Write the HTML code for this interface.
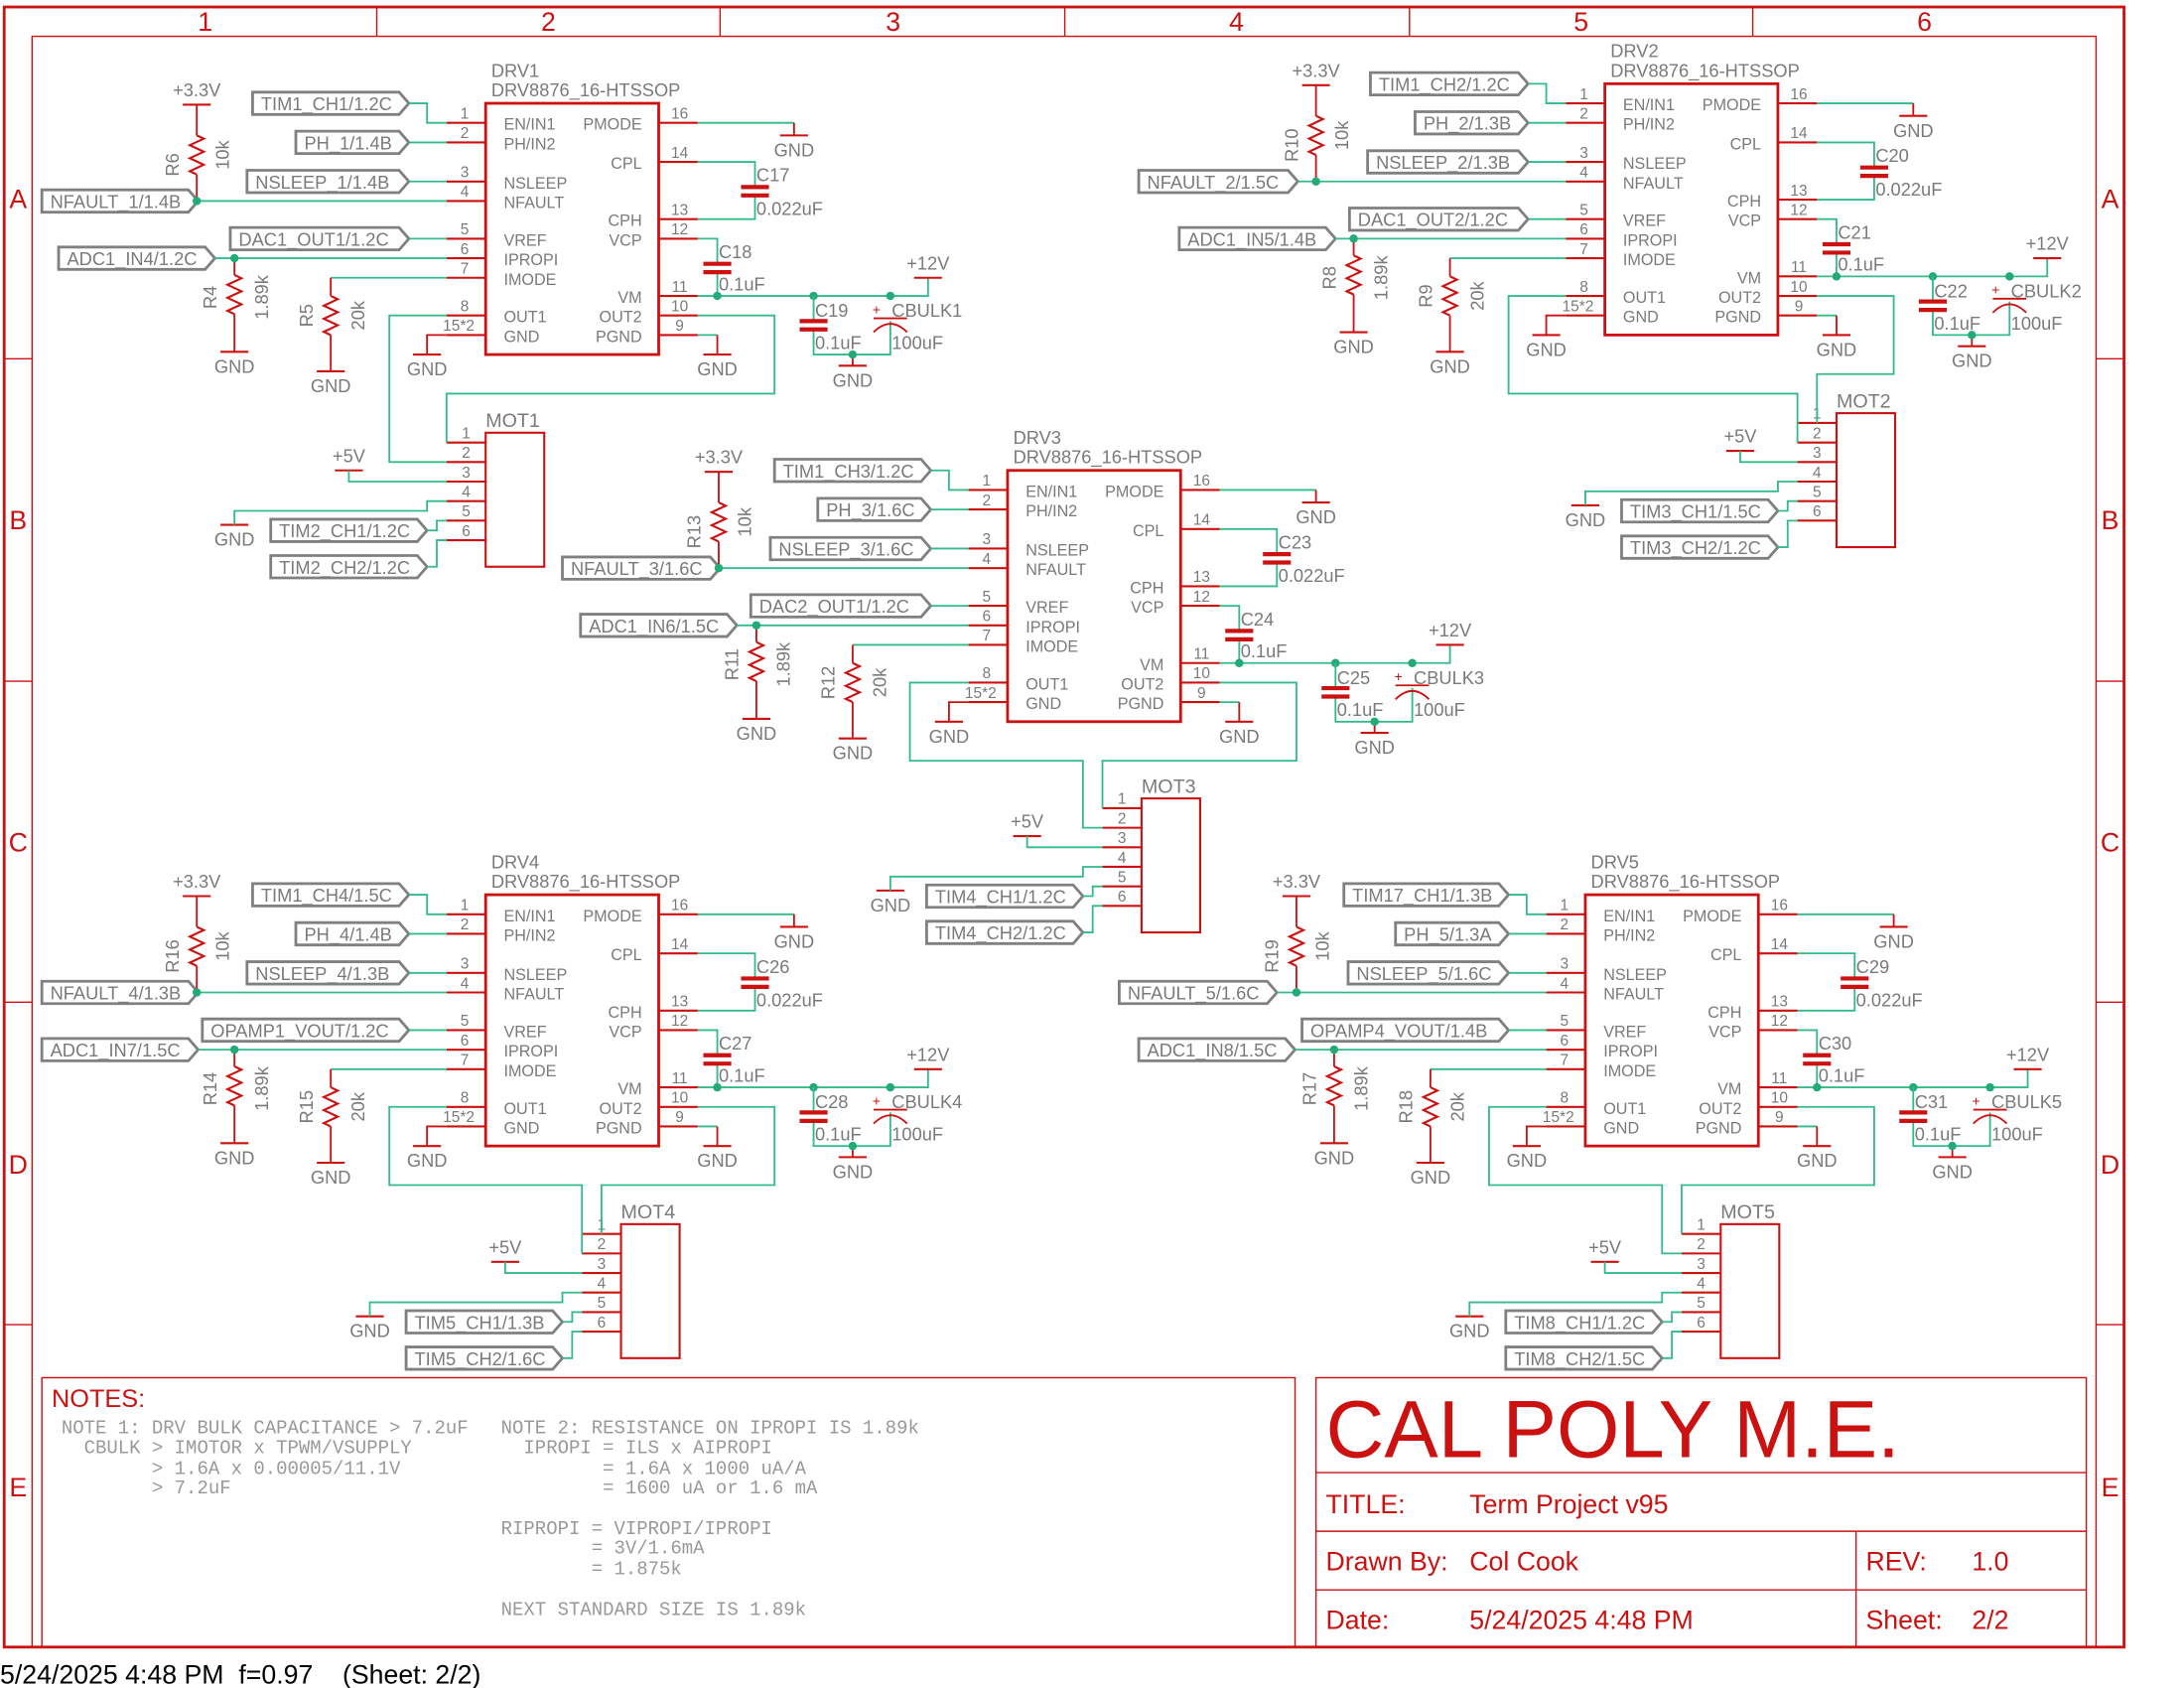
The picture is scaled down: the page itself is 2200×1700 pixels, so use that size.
<!DOCTYPE html>
<html><head><meta charset="utf-8"><style>
html,body{margin:0;padding:0;background:#fff}
svg{display:block}
text{font-family:"Liberation Sans",sans-serif}
.mono text,.mono{font-family:"Liberation Mono",monospace;white-space:pre}
</style></head><body>
<svg id="s" width="2200" height="1700" viewBox="0 0 1565 1209.3" xmlns="http://www.w3.org/2000/svg">
<rect x="0" y="0" width="1565" height="1210" fill="#fff"/>
<g id="frame" fill="none" stroke="#cc1111">
<rect x="3" y="5" width="1519" height="1175" stroke-width="2"/>
<rect x="23" y="26" width="1479" height="1154" stroke-width="1"/>
<path d="M270 5V26M516 5V26M763 5V26M1010 5V26M1256 5V26M3 257H23M3 488H23M3 718H23M3 949H23M1502 257H1522M1502 488H1522M1502 718H1522M1502 949H1522" stroke-width="1"/>
<rect x="30" y="987" width="898" height="193" stroke-width="1"/>
<rect x="943" y="987" width="552" height="193" stroke-width="1"/>
<path d="M943 1055H1495M943 1097H1495M943 1139H1495M1330 1097V1180" stroke-width="1"/>
</g>
<g fill="#cc1111" font-size="19" text-anchor="middle">
<text x="147" y="22">1</text><text x="393" y="22">2</text><text x="640" y="22">3</text><text x="886" y="22">4</text><text x="1133" y="22">5</text><text x="1379" y="22">6</text>
<text x="13" y="149">A</text><text x="13" y="379">B</text><text x="13" y="610">C</text><text x="13" y="841">D</text><text x="13" y="1072">E</text>
<text x="1512" y="149">A</text><text x="1512" y="379">B</text><text x="1512" y="610">C</text><text x="1512" y="841">D</text><text x="1512" y="1072">E</text>
</g>
<g fill="#cc1111">
<text x="37" y="1008" font-size="18">NOTES:</text>
<text x="950" y="1044" font-size="58">CAL POLY M.E.</text>
<text x="950" y="1084" font-size="19">TITLE:</text><text x="1053" y="1084" font-size="19">Term Project v95</text>
<text x="950" y="1125" font-size="19">Drawn By:</text><text x="1053" y="1125" font-size="19">Col Cook</text>
<text x="1337" y="1125" font-size="19">REV:</text><text x="1413" y="1125" font-size="19">1.0</text>
<text x="950" y="1167" font-size="19">Date:</text><text x="1053" y="1167" font-size="19">5/24/2025 4:48 PM</text>
<text x="1337" y="1167" font-size="19">Sheet:</text><text x="1413" y="1167" font-size="19">2/2</text>
</g>
<g class="mono" fill="#999" font-size="13.5">
<text x="44" y="1027">NOTE 1: DRV BULK CAPACITANCE &gt; 7.2uF</text>
<text x="44" y="1041">  CBULK &gt; IMOTOR x TPWM/VSUPPLY</text>
<text x="44" y="1056">        &gt; 1.6A x 0.00005/11.1V</text>
<text x="44" y="1070">        &gt; 7.2uF</text>
<text x="359" y="1027">NOTE 2: RESISTANCE ON IPROPI IS 1.89k</text>
<text x="359" y="1041">  IPROPI = ILS x AIPROPI</text>
<text x="359" y="1056">         = 1.6A x 1000 uA/A</text>
<text x="359" y="1070">         = 1600 uA or 1.6 mA</text>
<text x="359" y="1099">RIPROPI = VIPROPI/IPROPI</text>
<text x="359" y="1113">        = 3V/1.6mA</text>
<text x="359" y="1128">        = 1.875k</text>
<text x="359" y="1157">NEXT STANDARD SIZE IS 1.89k</text>
</g>
<text x="0" y="1206" font-size="19" fill="#000" style="white-space:pre">5/24/2025 4:48 PM  f=0.97    (Sheet: 2/2)</text>
<g id="sch"></g>
</svg>
<script>
var G=document.getElementById("sch"),out=[];
var RED="#cc1111",GRN="#33bb88",GRY="#808080",TX="#7a7a7a";
function P(d,c,w){out.push('<path d="'+d+'" fill="none" stroke="'+c+'" stroke-width="'+(w||1.3)+'"/>');}
function L(pts,c){var d="M"+pts.map(function(p){return p[0]+" "+p[1]}).join("L");P(d,c||GRN);}
function T(x,y,s,sz,anc,rot,col){var t='<text x="'+x+'" y="'+y+'" font-size="'+(sz||13)+'" fill="'+(col||TX)+'"'+(anc?' text-anchor="'+anc+'"':'')+(rot?' transform="rotate(-90 '+x+' '+y+')"':'')+'>'+s+'</text>';out.push(t);}
function D(x,y){out.push('<circle cx="'+x+'" cy="'+y+'" r="3" fill="#22aa77"/>');}
function gnd(x,y){P("M"+(x-10)+" "+y+"H"+(x+10),RED,1.5);T(x,y+15,"GND",13,"middle");}
function sup(x,y,s){P("M"+(x-10)+" "+y+"H"+(x+10),RED,1.5);T(x,y-6,s,13,"middle");}
function res(x,y1,y2){var d="M"+x+" "+y1,n=6,h=(y2-y1)/n;for(var i=0;i<n;i++){d+="L"+(x+(i%2?-5:5))+" "+(y1+h*(i+0.5));}d+="L"+x+" "+y2;P(d,RED,1.5);}
function cap(x,y){P("M"+(x-10)+" "+y+"H"+(x+10)+"M"+(x-10)+" "+(y+6)+"H"+(x+10),RED,3);}
function pcap(x,y){P("M"+(x-12)+" "+y+"H"+(x+12),RED,1.3);P("M"+(x-12)+" "+(y+10)+"Q"+x+" "+(y-2)+" "+(x+12)+" "+(y+10),RED,1.3);T(x-10,y-3,"+",10,"middle",0,RED);}
function lab(l,tip,y,s){out.push('<path d="M'+l+' '+(y-8)+'H'+(tip-7)+'L'+tip+' '+y+'L'+(tip-7)+' '+(y+8)+'H'+l+'Z" fill="#fff" stroke="'+GRY+'" stroke-width="2"/>');T(l+6,y+5,s,13);}
function drv(dx,dy,c){
 function X(v){return v+dx} function Y(v){return v+dy}
 T(X(352),Y(55),c.n,13);T(X(352),Y(69),"DRV8876_16-HTSSOP",13);
 var lp=[["1",88,"EN/IN1"],["2",102,"PH/IN2"],["3",130,"NSLEEP"],["4",144,"NFAULT"],["5",171,"VREF"],["6",185,"IPROPI"],["7",199,"IMODE"],["8",226,"OUT1"],["15*2",240,"GND"]];
 var rp=[["16",88,"PMODE"],["14",116,"CPL"],["13",157,"CPH"],["12",171,"VCP"],["11",212,"VM"],["10",226,"OUT2"],["9",240,"PGND"]];
 lp.forEach(function(p){P("M"+X(320)+" "+Y(p[1])+"H"+X(348),RED,1.5);T(X(p[0].length>2?340:333),Y(p[1]-3),p[0],11,p[0].length>2?"end":"middle");T(X(361),Y(p[1]+5),p[2],11.5);});
 rp.forEach(function(p){P("M"+X(472)+" "+Y(p[1])+"H"+X(500),RED,1.5);T(X(487),Y(p[1]-3),p[0],11,"middle");T(X(460),Y(p[1]+5),p[2],11.5,"end");});
 out.push('<rect x="'+X(348)+'" y="'+Y(74)+'" width="124" height="180" fill="none" stroke="'+RED+'" stroke-width="2"/>');
 var L1=c.l;
 lab(X(L1[0]),X(293),Y(74),c.t[0]);lab(X(L1[1]),X(293),Y(102),c.t[1]);lab(X(L1[2]),X(293),Y(130),c.t[2]);
 lab(c.nf[0],c.nf[1],Y(144),c.t[3]);lab(X(L1[4]),X(293),Y(171),c.t[4]);lab(c.ad[0],c.ad[1],Y(185),c.t[5]);
 L([[X(293),Y(74)],[X(306),Y(74)],[X(306),Y(88)],[X(320),Y(88)]]);
 L([[X(293),Y(102)],[X(320),Y(102)]]);L([[X(293),Y(130)],[X(320),Y(130)]]);
 L([[c.nf[1],Y(144)],[X(320),Y(144)]]);L([[X(293),Y(171)],[X(320),Y(171)]]);
 L([[c.ad[1],Y(185)],[X(320),Y(185)]]);L([[X(237),Y(199)],[X(320),Y(199)]]);
 sup(X(141),Y(75),"+3.3V");P("M"+X(141)+" "+Y(75)+"V"+Y(97)+"M"+X(141)+" "+Y(125)+"V"+Y(144),RED,1.3);res(X(141),Y(97),Y(125));D(X(141),Y(144));
 T(X(128),Y(118),c.r[0],13,"middle",1);T(X(164),Y(111),"10k",13,"middle",1);
 P("M"+X(168)+" "+Y(185)+"V"+Y(197)+"M"+X(168)+" "+Y(225)+"V"+Y(252),RED,1.3);res(X(168),Y(197),Y(225));D(X(168),Y(185));gnd(X(168),Y(252));
 T(X(155),Y(213),c.r[1],13,"middle",1);T(X(192),Y(213),"1.89k",13,"middle",1);
 P("M"+X(237)+" "+Y(199)+"V"+Y(212)+"M"+X(237)+" "+Y(240)+"V"+Y(266),RED,1.3);res(X(237),Y(212),Y(240));gnd(X(237),Y(266));
 T(X(224),Y(226),c.r[2],13,"middle",1);T(X(261),Y(226),"20k",13,"middle",1);
 P("M"+X(320)+" "+Y(240)+"H"+X(306)+"V"+Y(254),RED,1.3);gnd(X(306),Y(254));
 L([[X(500),Y(88)],[X(569),Y(88)]]);P("M"+X(569)+" "+Y(88)+"V"+Y(97),RED,1.3);gnd(X(569),Y(97));
 L([[X(500),Y(116)],[X(541),Y(116)],[X(541),Y(134)]]);L([[X(541),Y(140)],[X(541),Y(157)],[X(500),Y(157)]]);cap(X(541),Y(134));
 T(X(542),Y(130),c.c[0],13);T(X(542),Y(154),"0.022uF",13);
 L([[X(500),Y(171)],[X(514),Y(171)],[X(514),Y(189)]]);L([[X(514),Y(195)],[X(514),Y(212)]]);cap(X(514),Y(189));
 T(X(515),Y(185),c.c[1],13);T(X(515),Y(208),"0.1uF",13);
 L([[X(500),Y(212)],[X(665),Y(212)],[X(665),Y(199)]]);sup(X(665),Y(199),"+12V");D(X(514),Y(212));D(X(583),Y(212));D(X(638),Y(212));
 L([[X(583),Y(212)],[X(583),Y(230)]]);L([[X(583),Y(236)],[X(583),Y(254)],[X(638),Y(254)],[X(638),Y(230)]]);cap(X(583),Y(230));pcap(X(638),Y(228));
 P("M"+X(611)+" "+Y(254)+"V"+Y(262),RED,1.3);D(X(611),Y(254));gnd(X(611),Y(262));
 T(X(584),Y(227),c.c[2],13);T(X(584),Y(250),"0.1uF",13);T(X(639),Y(227),c.c[3],13);T(X(639),Y(250),"100uF",13);
 L([[X(500),Y(240)],[X(514),Y(240)]]);P("M"+X(514)+" "+Y(240)+"V"+Y(254),RED,1.3);gnd(X(514),Y(254));
}
function mot(bx,by,n,v5,t1,t2){
 var p=[];for(var i=0;i<6;i++)p.push(by+7+14*i);
 T(bx,by-4,n,14);
 out.push('<rect x="'+bx+'" y="'+by+'" width="42" height="96" fill="none" stroke="'+RED+'" stroke-width="1.5"/>');
 p.forEach(function(y,i){P("M"+(bx-28)+" "+y+"H"+bx,RED,1.5);T(bx-14,y-3,""+(i+1),11,"middle");});
 sup(v5,p[2]-8,"+5V");L([[v5,p[2]-8],[v5,p[2]],[bx-28,p[2]]]);
 var g=bx-180;gnd(g,p[3]+17);L([[g,p[3]+17],[g,p[3]+7],[bx-42,p[3]+7],[bx-42,p[3]],[bx-28,p[3]]]);
 lab(bx-154,bx-42,p[4]+7,t1);L([[bx-42,p[4]+7],[bx-35,p[4]+7],[bx-35,p[4]],[bx-28,p[4]]]);
 lab(bx-154,bx-42,by+96,t2);L([[bx-42,by+96],[bx-35,by+96],[bx-35,p[5]],[bx-28,p[5]]]);
}
drv(0,0,{n:"DRV1",l:[181,212,177,0,165],nf:[30,142],ad:[42,154],t:["TIM1_CH1/1.2C","PH_1/1.4B","NSLEEP_1/1.4B","NFAULT_1/1.4B","DAC1_OUT1/1.2C","ADC1_IN4/1.2C"],r:["R6","R4","R5"],c:["C17","C18","C19","CBULK1"]});
drv(802,-14,{n:"DRV2",l:[180,212,178,0,165],nf:[816,930],ad:[845,957],t:["TIM1_CH2/1.2C","PH_2/1.3B","NSLEEP_2/1.3B","NFAULT_2/1.5C","DAC1_OUT2/1.2C","ADC1_IN5/1.4B"],r:["R10","R8","R9"],c:["C20","C21","C22","CBULK2"]});
drv(374,263,{n:"DRV3",l:[181,212,178,0,164],nf:[403,516],ad:[416,528],t:["TIM1_CH3/1.2C","PH_3/1.6C","NSLEEP_3/1.6C","NFAULT_3/1.6C","DAC2_OUT1/1.2C","ADC1_IN6/1.5C"],r:["R13","R11","R12"],c:["C23","C24","C25","CBULK3"]});
drv(0,567,{n:"DRV4",l:[181,212,177,0,145],nf:[30,142],ad:[30,142],t:["TIM1_CH4/1.5C","PH_4/1.4B","NSLEEP_4/1.3B","NFAULT_4/1.3B","OPAMP1_VOUT/1.2C","ADC1_IN7/1.5C"],r:["R16","R14","R15"],c:["C26","C27","C28","CBULK4"]});
drv(788,567,{n:"DRV5",l:[175,212,178,0,145],nf:[802,915],ad:[816,928],t:["TIM17_CH1/1.3B","PH_5/1.3A","NSLEEP_5/1.6C","NFAULT_5/1.6C","OPAMP4_VOUT/1.4B","ADC1_IN8/1.5C"],r:["R19","R17","R18"],c:["C29","C30","C31","CBULK5"]});
mot(348,310,"MOT1",250,"TIM2_CH1/1.2C","TIM2_CH2/1.2C");
mot(1316,296,"MOT2",1247,"TIM3_CH1/1.5C","TIM3_CH2/1.2C");
mot(818,572,"MOT3",736,"TIM4_CH1/1.2C","TIM4_CH2/1.2C");
mot(445,877,"MOT4",362,"TIM5_CH1/1.3B","TIM5_CH2/1.6C");
mot(1233,877,"MOT5",1150,"TIM8_CH1/1.2C","TIM8_CH2/1.5C");
L([[320,226],[279,226],[279,331],[320,331]]);L([[500,226],[555,226],[555,282],[320,282],[320,317]]);
L([[1122,212],[1081,212],[1081,282],[1288,282],[1288,317]]);L([[1302,212],[1357,212],[1357,268],[1302,268],[1302,303]]);
L([[694,489],[652,489],[652,545],[776,545],[776,593],[790,593]]);L([[874,489],[929,489],[929,545],[790,545],[790,579]]);
L([[320,793],[279,793],[279,849],[417,849],[417,898]]);L([[500,793],[555,793],[555,849],[431,849],[431,884]]);
L([[1108,793],[1067,793],[1067,849],[1191,849],[1191,898],[1205,898]]);L([[1288,793],[1343,793],[1343,849],[1205,849],[1205,884]]);
G.innerHTML=out.join("");
</script>
</body></html>
